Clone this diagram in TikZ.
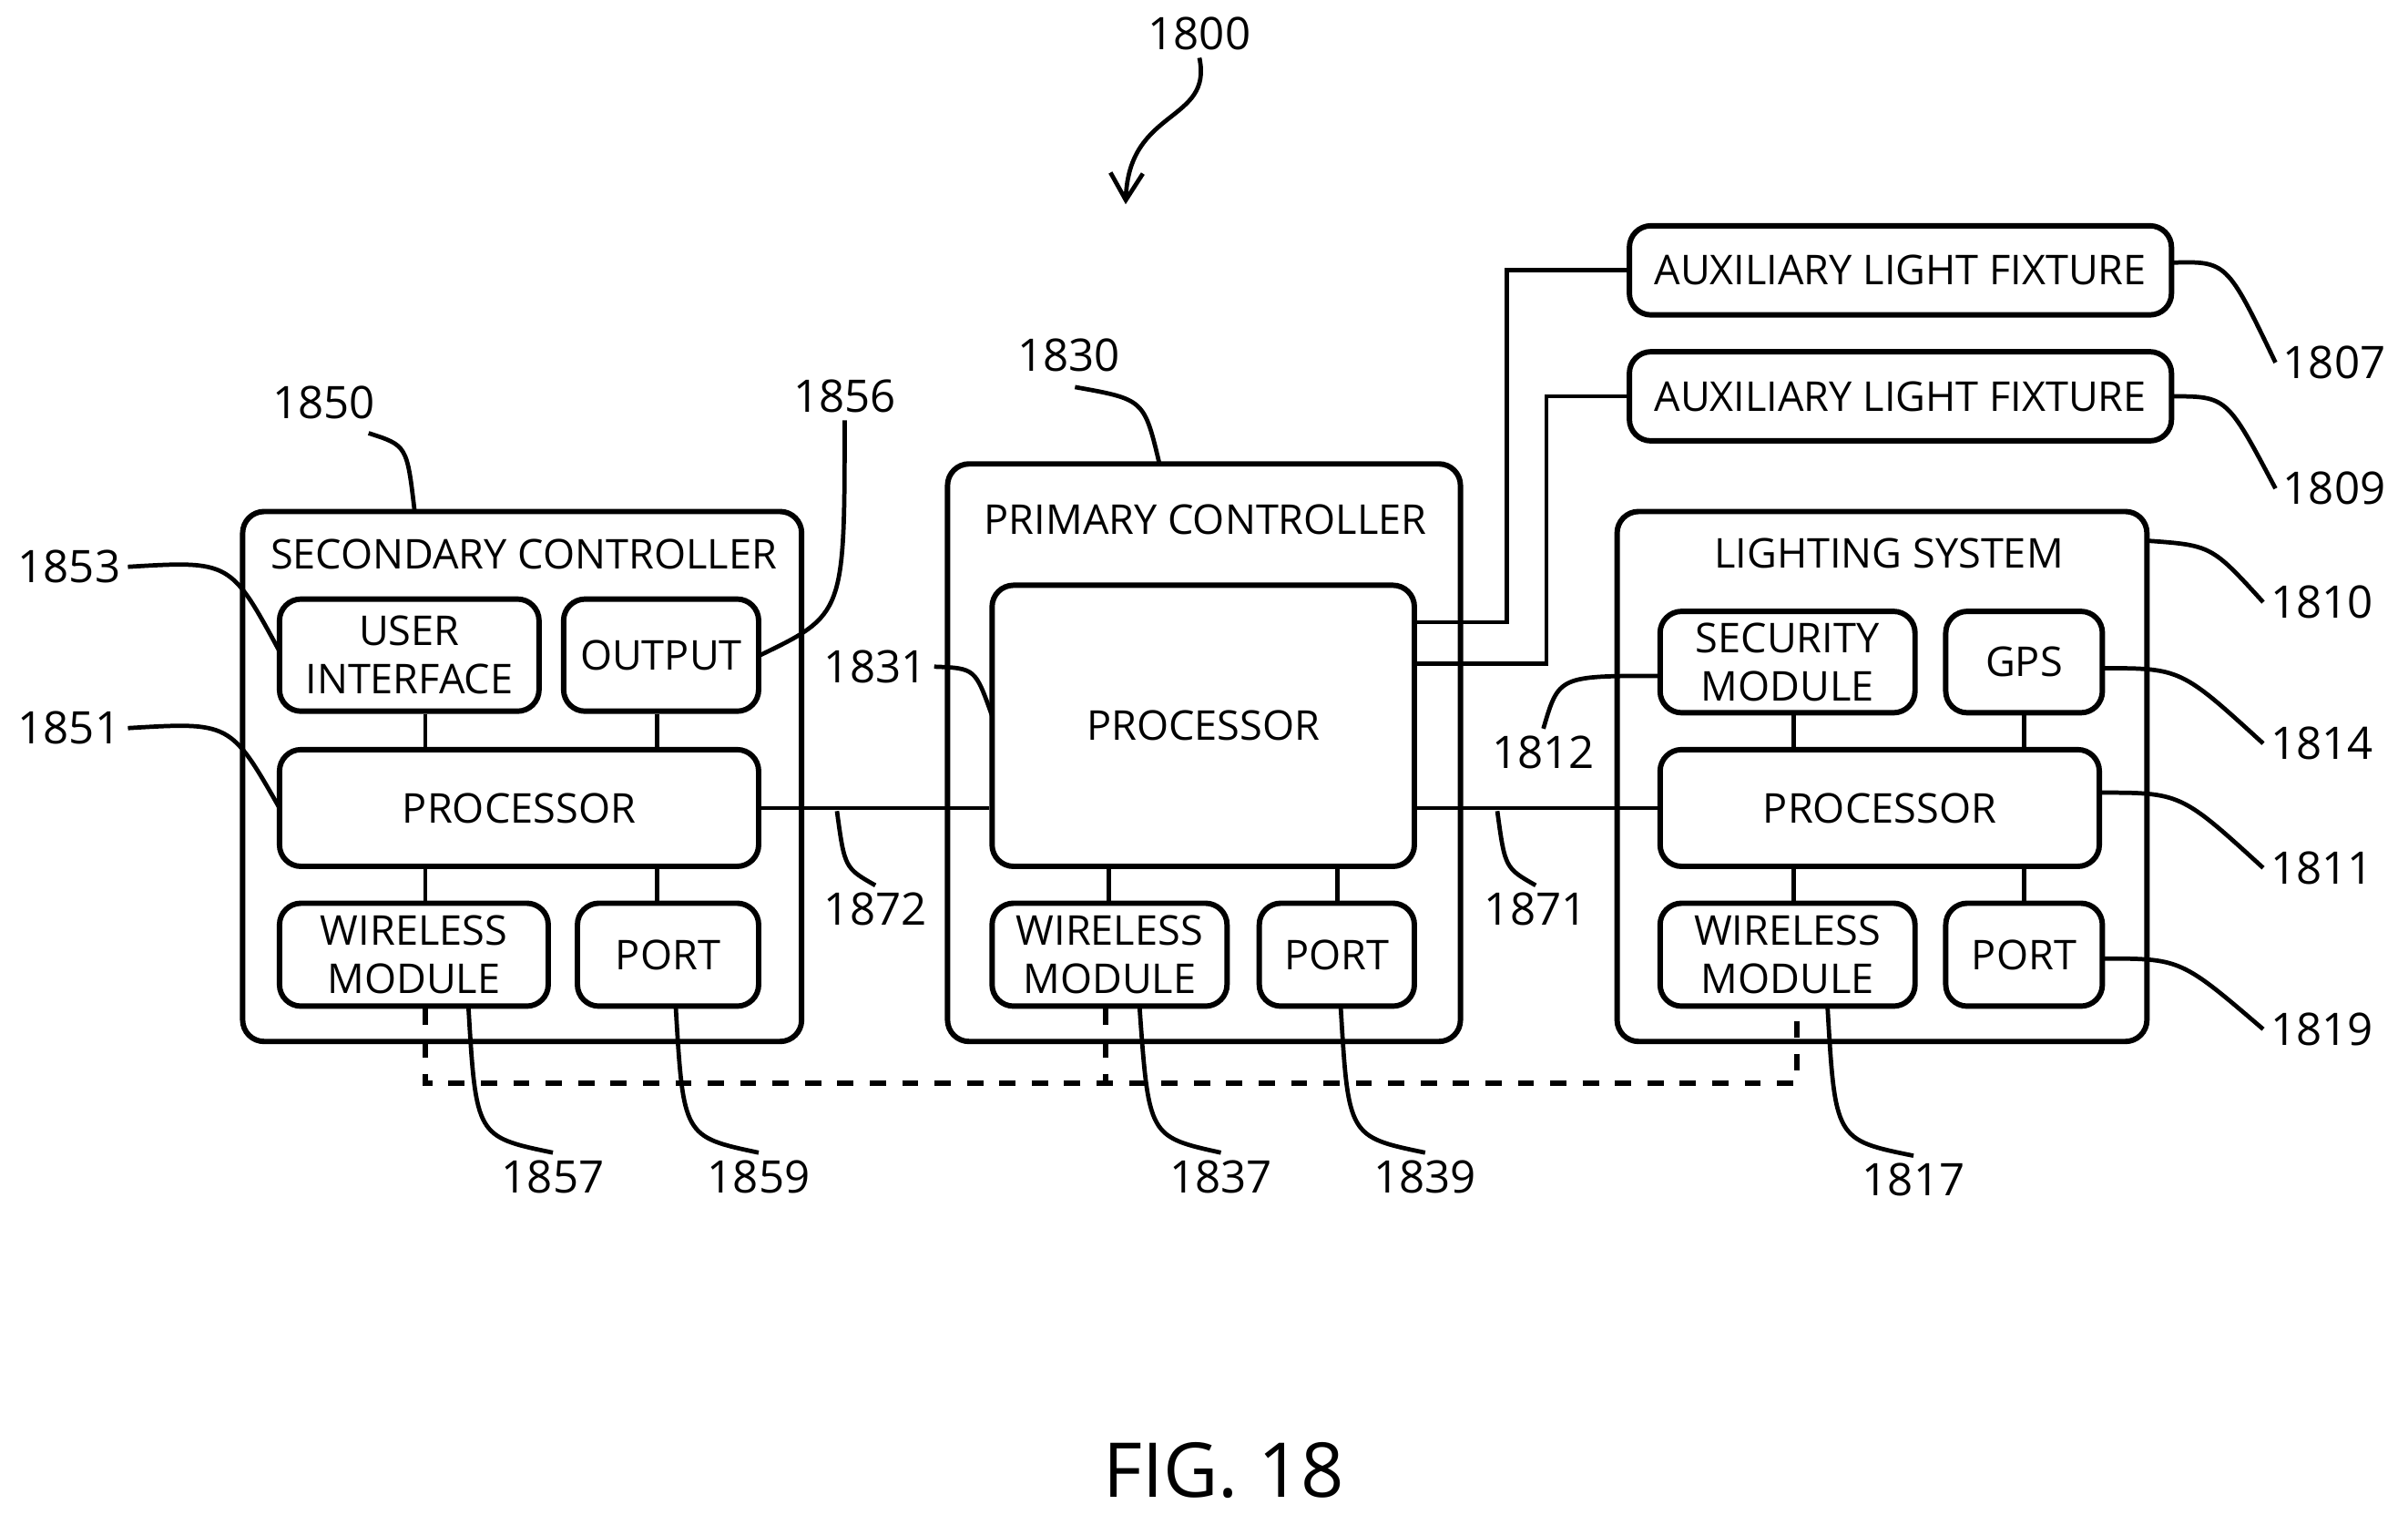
\documentclass[tikz,border=0pt]{standalone}
\usepackage{fontspec}
\setmainfont{Open Sans}
\usetikzlibrary{arrows.meta}
\begin{document}
\begin{tikzpicture}[x=0.01cm,y=-0.01cm,line width=0.8pt,
  box/.style={draw,rounded corners=0.14cm,inner sep=0pt,align=center,font=\fontsize{7.6}{9}\selectfont,line width=1pt},
  lab/.style={font=\fontsize{8.3}{10}\selectfont,inner sep=1pt},
  ttl/.style={font=\fontsize{7.6}{9}\selectfont,inner sep=0pt}]
\useasboundingbox (0,0) rectangle (1568,986);
\newcommand\bx[6]{\node[box,minimum width={(#4-#2)*0.01cm},minimum height={(#5-#3)*0.01cm}] (#1) at ({(#2+#4)/2},{(#3+#5)/2}) {#6};}
% secondary
\bx{sc}{158}{333}{522}{678}{}
\node[ttl] (sct) at (341,361) {SECONDARY CONTROLLER};
\bx{ui}{182}{390}{351}{463}{USER\\INTERFACE}
\bx{out}{367}{390}{494}{463}{OUTPUT}
\bx{sp}{182}{488}{494}{564}{PROCESSOR}
\bx{sw}{182}{588}{357}{655}{WIRELESS\\MODULE}
\bx{spt}{376}{588}{494}{655}{PORT}
% primary
\bx{pc}{617}{302}{951}{678}{}
\node[ttl] (pct) at (785,338) {PRIMARY CONTROLLER};
\bx{pp}{646}{381}{921}{564}{PROCESSOR}
\bx{pw}{646}{588}{799}{655}{WIRELESS\\MODULE}
\bx{ppt}{820}{588}{921}{655}{PORT}
% lighting
\bx{ls}{1053}{333}{1398}{678}{}
\node[ttl] (lst) at (1230,360) {LIGHTING SYSTEM};
\bx{sec}{1081}{398}{1247}{464}{SECURITY\\MODULE}
\bx{gps}{1267}{398}{1369}{464}{GPS}
\bx{lp}{1081}{488}{1367}{564}{PROCESSOR}
\bx{lw}{1081}{588}{1247}{655}{WIRELESS\\MODULE}
\bx{lpt}{1267}{588}{1369}{655}{PORT}
% aux
\bx{a1}{1061}{147}{1414}{205}{AUXILIARY LIGHT FIXTURE}
\bx{a2}{1061}{229}{1414}{287}{AUXILIARY LIGHT FIXTURE}
% internal links
\foreach \a/\b/\x in {ui/sp/277,out/sp/428,sp/sw/277,sp/spt/428,pp/pw/722,pp/ppt/871,sec/lp/1168,gps/lp/1318,lp/lw/1168,lp/lpt/1318}
  \draw (\a.south -| \x,0) -- (\b.north -| \x,0);
\draw (sp.east) -- (sp.east -| pp.west);
\draw (lp.west -| pp.east) -- (lp.west);
\draw (pp.east |- 0,405) -| (981,176) -- (a1.west);
\draw (pp.east |- 0,432) -| (1007,258) -- (a2.west);
\draw[dashed,line width=1pt] (sw.south -| 277,0) |- (1170,705) -- (lw.south -| 1170,0);
\draw[dashed,line width=1pt] (pw.south -| 720,0) -- (720,705);
% labels
\node[lab] (n1800) at (781,22) {1800};
\draw[-{Straight Barb[length=5pt,width=6pt]}] (n1800.south) .. controls (790,80) and (735,70) .. (733,133);
\newcommand\lb[7]{\node[lab] (#1) at (#2,#3) {#1}; \draw (#4) .. controls #5 .. (#6,#7);}
\node[lab] (n1850) at (211,262) {1850}; \draw (240,282) .. controls (265,290) .. (270,333);
\node[lab] (n1856) at (550,258) {1856}; \draw (n1856.south) .. controls (550,400) .. (494,427);
\node[lab] (n1853) at (45,369) {1853}; \draw (n1853.east) .. controls (150,365) .. (182,424);
\node[lab] (n1851) at (45,474) {1851}; \draw (n1851.east) .. controls (150,470) .. (182,526);
\node[lab] (n1830) at (696,231) {1830}; \draw (700,252) .. controls (745,260) .. (755,302);
\node[lab] (n1831) at (570,434) {1831}; \draw (n1831.east) .. controls (635,435) .. (646,466);
\node[lab] (n1872) at (570,592) {1872}; \draw (545,528) .. controls (550,565) .. (n1872.north);
\node[lab] (n1871) at (1000,592) {1871}; \draw (975,528) .. controls (980,565) .. (n1871.north);
\node[lab] (n1812) at (1005,490) {1812}; \draw (n1812.north) .. controls (1015,440) .. (1081,440);
\node[lab] (n1807) at (1520,236) {1807}; \draw (1414,171) .. controls (1450,170) .. (n1807.west);
\node[lab] (n1809) at (1520,318) {1809}; \draw (1414,258) .. controls (1450,258) .. (n1809.west);
\node[lab] (n1810) at (1512,392) {1810}; \draw (1398,352) .. controls (1440,355) .. (n1810.west);
\node[lab] (n1814) at (1512,484) {1814}; \draw (1369,435) .. controls (1420,435) .. (n1814.west);
\node[lab] (n1811) at (1512,565) {1811}; \draw (1367,516) .. controls (1420,516) .. (n1811.west);
\node[lab] (n1819) at (1512,670) {1819}; \draw (1369,624) .. controls (1420,624) .. (n1819.west);
\node[lab] (n1857) at (360,766) {1857}; \draw (305,655) .. controls (310,740) .. (n1857.north);
\node[lab] (n1859) at (494,766) {1859}; \draw (440,655) .. controls (445,740) .. (n1859.north);
\node[lab] (n1837) at (795,766) {1837}; \draw (742,655) .. controls (748,740) .. (n1837.north);
\node[lab] (n1839) at (928,766) {1839}; \draw (873,655) .. controls (878,740) .. (n1839.north);
\node[lab] (n1817) at (1246,768) {1817}; \draw (1190,655) .. controls (1195,742) .. (n1817.north);
\node[font=\fontsize{14}{16}\selectfont] (fig) at (797,957) {FIG. 18};
\end{tikzpicture}
\end{document}
